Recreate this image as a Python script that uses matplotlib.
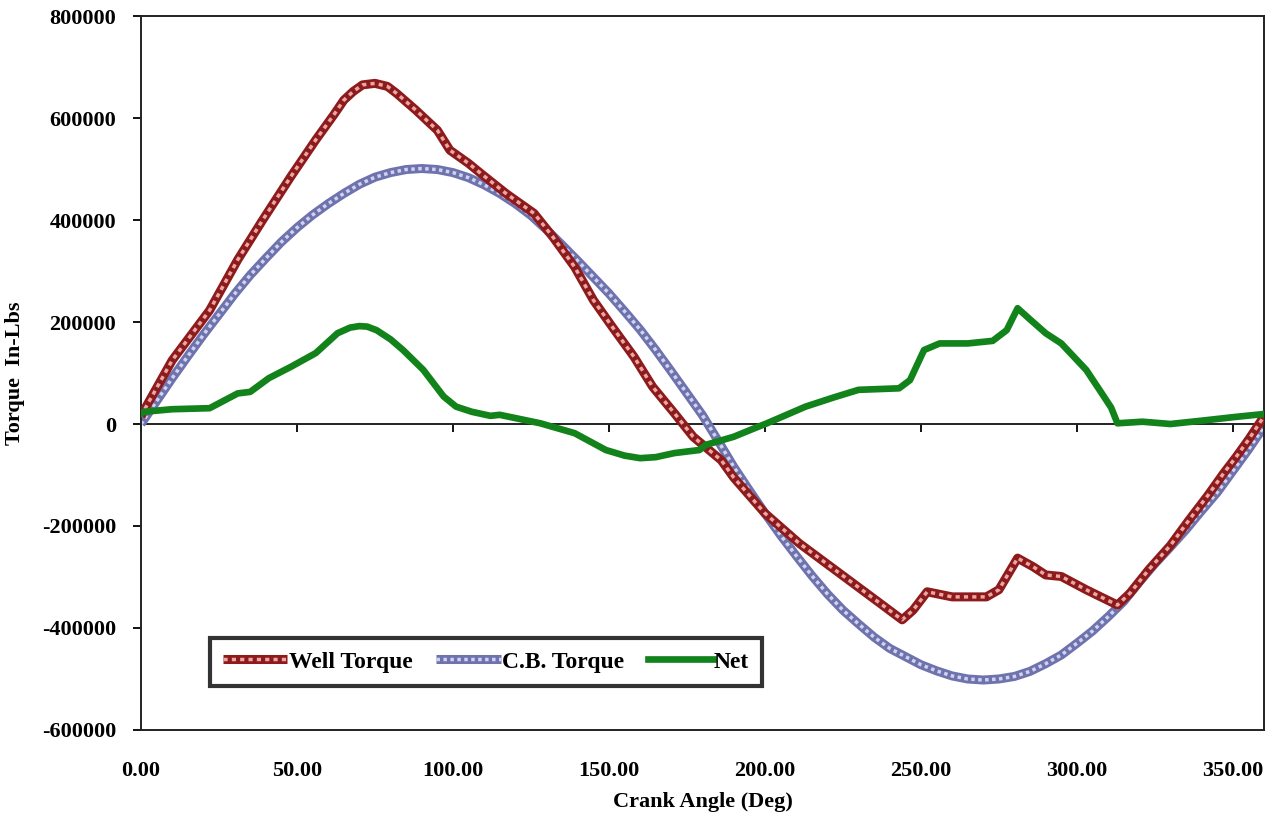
import matplotlib
matplotlib.use("Agg")
import matplotlib.pyplot as plt

# Crank angle (deg) / torque (in-lbs)
well_deg = [0, 1, 10, 22, 31, 39, 48, 56, 62, 65, 68, 71, 75, 79, 82, 88, 95,
            99, 105, 109, 117, 126, 132, 139, 145, 151, 158, 164, 171, 177,
            186, 190, 200, 211, 224, 237, 244, 247.5, 252, 260, 271, 275, 281,
            286, 290, 295, 303, 313, 317, 323, 330, 336, 342, 347, 351, 355,
            360]
well_val = [15000, 27000, 125000, 223000, 322000, 400000, 485000, 557000,
            608000, 635000, 652000, 665000, 668000, 662000, 648000, 616000,
            576000, 537000, 511000, 491000, 452000, 413000, 367000, 308000,
            243000, 191000, 132000, 73000, 21000, -25000, -71000, -105000,
            -175000, -234000, -293000, -352000, -384000, -365000, -329000,
            -339000, -339000, -325000, -263000, -280000, -296000, -299000,
            -325000, -355000, -332000, -286000, -238000, -188000, -140000,
            -97000, -65000, -31000, 15000]

cb_deg = list(range(0, 361, 5))
cb_val = [0, 45000, 90000, 133000, 175000, 215000, 255000, 292000, 325000,
          357000, 385000, 410000, 432000, 452000, 470000, 484000, 493000,
          499000, 501000, 499000, 493000, 483000, 469000, 452000, 432000,
          409000, 381000, 351000, 320000, 288000, 256000, 221000, 185000,
          145000, 103000, 60000, 17000, -33000, -84000, -130000, -175000,
          -218000, -258000, -297000, -333000, -365000, -392000, -418000,
          -440000, -456000, -472000, -484000, -494000, -500000, -502000,
          -500000, -495000, -485000, -470000, -453000, -430000, -406000,
          -378000, -348000, -310000, -274000, -241000, -207000, -170000,
          -134000, -92000, -50000, -5000]

net_deg = [0, 1, 10, 22, 31, 35, 41, 48, 56, 63, 67, 70, 72.5, 75.5, 80, 84,
           90.5, 97, 101, 106, 112, 115, 128, 139, 149, 155, 160, 165, 171,
           179, 181, 190, 198, 200.5, 213, 222, 230, 243, 246.5, 251, 256,
           265, 273, 277.5, 281, 285, 290, 295, 303, 308, 311, 313, 321, 330,
           340, 351, 360]
net_val = [20000, 24000, 29000, 31000, 60000, 63000, 90000, 112000, 139000,
           178000, 189000, 192000, 191000, 184000, 166000, 145000, 106000,
           54000, 34000, 24000, 16000, 18000, 1400, -18000, -51000, -62000,
           -67000, -65000, -57000, -51000, -41000, -25000, -5000, 1000, 34000,
           52000, 67000, 70000, 86000, 145000, 158000, 158000, 163000, 184000,
           227000, 205000, 178000, 158000, 106000, 60000, 32000, 1400, 4500,
           0, 6500, 14000, 19600]

x_ticks = [0, 50, 100, 150, 200, 250, 300, 350]
y_ticks = [-600000, -400000, -200000, 0, 200000, 400000, 600000, 800000]

plt.rcParams['font.family'] = ['Liberation Serif', 'DejaVu Serif']
plt.rcParams['font.weight'] = 'bold'

fig = plt.figure(figsize=(12.82, 8.18), dpi=100)
ax = fig.add_axes([0.110, 0.1076, 0.876, 0.8728])

# thick "patterned" lines: dark outline with a light dashed core
w1, = ax.plot(well_deg, well_val, color='#8e1b1b', lw=6.5,
              solid_capstyle='butt', zorder=3)
w2, = ax.plot(well_deg, well_val, color='#eaa5a5', lw=2.5, dashes=(1.2, 1.2),
              zorder=3.1)
c1, = ax.plot(cb_deg, cb_val, color='#6f73ad', lw=6.5, solid_capstyle='butt',
              zorder=2)
c2, = ax.plot(cb_deg, cb_val, color='#d0d3ef', lw=2.5, dashes=(1.0, 1.0),
              zorder=2.1)
n1, = ax.plot(net_deg, net_val, color='#12821a', lw=4.8, zorder=4)

ax.set_xlim(0, 360)
ax.set_ylim(-600000, 800000)
ax.set_yticks(y_ticks)
ax.set_yticklabels([str(v) for v in y_ticks])
ax.set_xticks(x_ticks)
ax.set_xticklabels(['%.2f' % v for v in x_ticks])

for sp in ax.spines.values():
    sp.set_color('#222222')
    sp.set_linewidth(1.4)

ax.tick_params(axis='y', direction='out', length=6, width=1.3, pad=12,
               labelsize=16, colors='black')
ax.tick_params(axis='x', length=0, pad=22, labelsize=16)

# x ticks sit on the zero line
zero_frac = (0 - (-600000)) / (800000 - (-600000))
sec = ax.secondary_xaxis(zero_frac)
sec.set_xticks(x_ticks)
sec.set_xticklabels([])
sec.tick_params(direction='out', length=6, width=1.3)
sec.spines['bottom'].set_color('#222222')
sec.spines['bottom'].set_linewidth(1.4)

ax.set_xlabel('Crank Angle (Deg)', fontsize=16, fontweight='bold',
              labelpad=8)
ax.set_ylabel('Torque  In-Lbs', fontsize=16, fontweight='bold', labelpad=12)

leg = ax.legend([(w1, w2), (c1, c2), n1],
                ['Well Torque', 'C.B. Torque', 'Net'], ncol=3,
                loc='lower left', bbox_to_anchor=(0.061, 0.062),
                borderaxespad=0, fontsize=17, frameon=True, fancybox=False,
                handlelength=2.75, handletextpad=0.05, columnspacing=1.0,
                borderpad=0.55)
leg.get_frame().set_edgecolor('black')
leg.get_frame().set_linewidth(3)

fig.savefig('out.png', dpi=100)
